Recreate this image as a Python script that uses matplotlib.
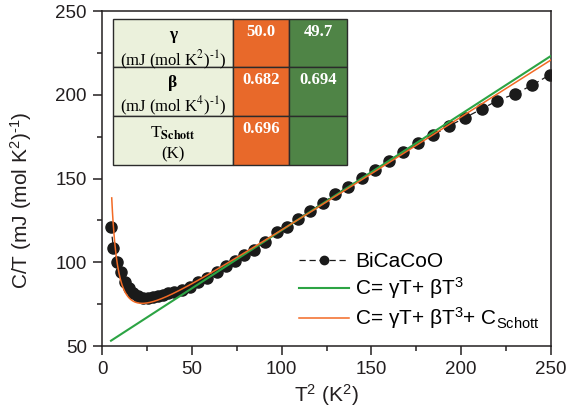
import matplotlib
matplotlib.use('Agg')
import matplotlib.pyplot as plt
import numpy as np
from matplotlib.patches import Rectangle
from matplotlib.ticker import MultipleLocator

plt.rcParams['font.family'] = ['Liberation Sans', 'DejaVu Sans']
plt.rcParams['mathtext.fontset'] = 'custom'
plt.rcParams['mathtext.rm'] = 'Liberation Sans'
plt.rcParams['mathtext.it'] = 'Liberation Sans:italic'
plt.rcParams['mathtext.bf'] = 'Liberation Sans:bold'

t2 = [5.0, 6.3, 8.5, 10.6, 12.8, 15.2, 17.4, 20.2, 23.0, 25.8, 28.6, 31.4, 34.1,
      36.9, 40.0, 44.4, 49.0, 53.6, 58.6, 63.8, 69.0, 74.0, 79.0, 84.8, 90.8,
      97.3, 103.2, 109.3, 115.8, 122.9, 129.7, 137.2, 144.6, 152.0, 159.9,
      167.8, 176.1, 184.5, 193.2, 202.1, 211.4, 220.1, 230.0, 239.6, 249.5]
ct = [121.2, 108.7, 100.1, 94.0, 88.5, 84.6, 81.8, 79.8, 78.6, 78.6, 79.1,
      79.9, 80.6, 81.5, 82.4, 83.6, 85.3, 88.0, 90.8, 94.2, 97.6, 100.5, 104.6,
      107.6, 112.3, 117.8, 121.2, 126.0, 130.7, 135.2, 140.5, 145.1, 150.1,
      155.3, 160.6, 165.6, 171.0, 176.0, 181.3, 186.3, 191.5, 196.5, 200.5,
      205.8, 212.0]

# fit parameters (table)
gamma_fit1, beta_fit1 = 49.7, 0.694            # C = gT + bT^3
gamma_fit2, beta_fit2, t_schott = 50.0, 0.682, 0.696   # + Schottky
n_schott = 1.08  # estimated

row_names = ['γ', 'β', r'T$_{\mathbf{Schott}}$']
row_units = [r'(mJ (mol K$^2$)$^{‐1}$)', r'(mJ (mol K$^4$)$^{‐1}$)', '(K)']
col_fit2 = ['50.0', '0.682', '0.696']
col_fit1 = ['49.7', '0.694', '']

fig = plt.figure(figsize=(5.82, 4.19), dpi=100)
ax = fig.add_axes([0.1753, 0.1742, 0.7714, 0.7995])

# fit curves
x1 = np.linspace(5.0, 250, 300)
ax.plot(x1, gamma_fit1 + beta_fit1 * x1, color='#2ca444', lw=1.5,
        label=r'C= γT+ βT$^3$', zorder=3)
x2 = np.linspace(5.4, 250, 600)
T = np.sqrt(x2)
xs = t_schott / T
c_sch = n_schott * 8314.0 * xs**2 * np.exp(xs) / (1 + np.exp(xs))**2
ax.plot(x2, gamma_fit2 + beta_fit2 * x2 + c_sch / T, color='#f26a25', lw=1.1,
        label=r'C= γT+ βT$^3$+ C$_{\mathrm{Schott}}$', zorder=4)

ax.plot(t2, ct, color='#1a1a1a', ls=(0, (5, 3)), lw=0.9, marker='o', ms=8,
        label='BiCaCoO', zorder=2)

ax.set_xlim(0, 250)
ax.set_ylim(50, 250)
ax.xaxis.set_major_locator(MultipleLocator(50))
ax.xaxis.set_minor_locator(MultipleLocator(25))
ax.yaxis.set_major_locator(MultipleLocator(50))
ax.yaxis.set_minor_locator(MultipleLocator(25))
ax.tick_params(which='both', direction='out', top=False, right=False,
               width=1.1, labelsize=13.5, colors='#231f20', pad=4.5)
ax.tick_params(which='major', length=6.5)
ax.tick_params(which='minor', length=3.6)
for s in ax.spines.values():
    s.set_linewidth(1.1)
    s.set_color('#231f20')

ax.set_xlabel(r'T$^2$ (K$^2$)', fontsize=15, color='#231f20', labelpad=3)
ax.set_ylabel(r'C/T (mJ (mol K$^2$)$^{‐1}$)', fontsize=15, color='#231f20')
ax.yaxis.set_label_coords(-0.152, 0.436)

handles, labels = ax.get_legend_handles_labels()
order = [2, 0, 1]
ax.legend([handles[i] for i in order], [labels[i] for i in order],
          loc='lower right', bbox_to_anchor=(1.008, 0.0), frameon=False,
          fontsize=15, handlelength=2.4, handletextpad=0.3,
          labelspacing=0.2, markerscale=0.75, borderaxespad=0.3)

# parameter table
xe = [0.0245, 0.2918, 0.4165, 0.5457]
ye = [0.976, 0.832, 0.687, 0.540]
fills = ['#ebf1dc', '#e8692a', '#4f8446']
for r in range(3):
    for c in range(3):
        ax.add_patch(Rectangle((xe[c], ye[r + 1]), xe[c + 1] - xe[c],
                               ye[r] - ye[r + 1], transform=ax.transAxes,
                               facecolor=fills[c], edgecolor='#2b2b2b',
                               lw=1.0, zorder=6))
tfont = dict(family='Liberation Serif', math_fontfamily='stix',
             ha='center', va='center', transform=ax.transAxes, zorder=7)
px = 1 / 335.0
name_off = [16, 15.4, 17]
unit_off = [41, 39, 39]
for r in range(3):
    top = ye[r]
    cx0 = (xe[0] + xe[1]) / 2
    w = 'normal' if r == 2 else 'bold'
    ax.text(cx0, top - name_off[r] * px, row_names[r], fontsize=12.5,
            fontweight=w, **tfont)
    ax.text(cx0, top - unit_off[r] * px, row_units[r], fontsize=12, **tfont)
    ax.text((xe[1] + xe[2]) / 2, top - 13 * px, col_fit2[r], fontsize=12,
            fontweight='bold', color='white', **tfont)
    ax.text((xe[2] + xe[3]) / 2, top - 13 * px, col_fit1[r], fontsize=12,
            fontweight='bold', color='white', **tfont)

fig.savefig('out.png', dpi=100)
